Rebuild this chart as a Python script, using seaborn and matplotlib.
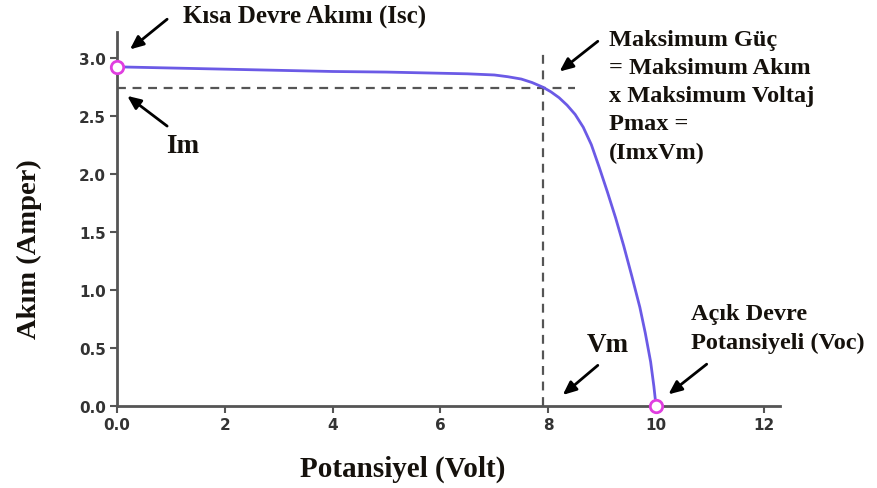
import matplotlib
matplotlib.use("Agg")
import matplotlib.pyplot as plt
import seaborn as sns
import pandas as pd

# ---- data ----
voltage = [0.0, 1.0, 2.0, 3.0, 4.0, 5.0, 6.0, 6.5, 7.0, 7.25, 7.5, 7.7, 7.9,
           8.05, 8.2, 8.35, 8.5, 8.65, 8.8, 8.95, 9.1, 9.25, 9.4, 9.55, 9.7,
           9.8, 9.9, 9.96, 10.0]
current = [2.92, 2.91, 2.90, 2.89, 2.88, 2.875, 2.865, 2.86, 2.85, 2.835,
           2.815, 2.785, 2.745, 2.705, 2.655, 2.59, 2.51, 2.40, 2.25, 2.05,
           1.84, 1.62, 1.38, 1.12, 0.85, 0.63, 0.38, 0.17, 0.0]
isc = 2.92
voc = 10.0
im = 2.74
vm = 7.9
xticks = [0, 2, 4, 6, 8, 10, 12]
xtick_labels = ["0.0", "2", "4", "6", "8", "10", "12"]
yticks = [0.0, 0.5, 1.0, 1.5, 2.0, 2.5, 3.0]
ytick_labels = ["0.0", "0.5", "1.0", "1.5", "2.0", "2.5", "3.0"]

df = pd.DataFrame({"V": voltage, "I": current})
pts = pd.DataFrame({"V": [0.0, voc], "I": [isc, 0.0]})

sns.set_style("ticks")
plt.rcParams["font.family"] = ["DejaVu Sans"]

fig = plt.figure(figsize=(8.77, 4.89), dpi=100)
ax = fig.add_axes([117 / 877, 1 - 407 / 489, (780 - 117) / 877, (407 - 33) / 489])

serif = ["Liberation Serif", "DejaVu Serif"]
tcol = "#15110c"
grey = "#555555"

# dashed guide lines
ax.plot([0, 8.5], [im, im], ls=(0, (4, 3)), color=grey, lw=1.6, zorder=1)
ax.plot([vm, vm], [0, 3.07], ls=(0, (4, 3)), color=grey, lw=1.6, zorder=1)

sns.lineplot(data=df, x="V", y="I", ax=ax, color="#6b5ae6", lw=2.0,
             sort=False, zorder=3)
sns.scatterplot(data=pts, x="V", y="I", ax=ax, s=80, marker="o",
                facecolor="white", edgecolor="#e03ee0", linewidth=2.0,
                zorder=5, clip_on=False)

ax.set_xlim(0, 12.3)
ax.set_ylim(0, 3.22)
ax.set_xticks(xticks)
ax.set_xticklabels(xtick_labels)
ax.set_yticks(yticks)
ax.set_yticklabels(ytick_labels)
for lab in ax.get_xticklabels() + ax.get_yticklabels():
    lab.set_fontweight("bold")
    lab.set_fontsize(11)
    lab.set_color("#333333")
ax.tick_params(axis="both", length=5, width=1.5, color=grey, pad=3)
for s in ["top", "right"]:
    ax.spines[s].set_visible(False)
for s in ["left", "bottom"]:
    ax.spines[s].set_color(grey)
    ax.spines[s].set_linewidth(2.0)

ax.set_xlabel("")
ax.set_ylabel("")
fig.text(403 / 877, 1 - 469 / 489, "Potansiyel (Volt)", family=serif,
         fontweight="bold", fontsize=21, color=tcol, ha="center", va="center")
fig.text(29 / 877, 1 - 249 / 489, "Akım (Amper)", family=serif,
         fontweight="bold", fontsize=20.5, color=tcol, ha="center",
         va="center", rotation=90)

arrow = dict(arrowstyle="-|>,head_length=0.8,head_width=0.35", color="black",
             lw=2.0, shrinkA=0, shrinkB=0)

# short circuit current
ax.annotate("", xy=(0.24, 3.07), xytext=(0.93, 3.33), arrowprops=arrow,
            annotation_clip=False)
ax.text(1.22, 3.36, "Kısa Devre Akımı (Isc)", family=serif, fontweight="bold",
        fontsize=18, color=tcol, ha="left", va="center", clip_on=False)

# Im
ax.annotate("", xy=(0.19, 2.67), xytext=(0.93, 2.41), arrowprops=arrow,
            annotation_clip=False)
ax.text(1.21, 2.24, "Im", family=serif, fontweight="bold", fontsize=19.5,
        color=tcol, ha="center", va="center", clip_on=False)

# maximum power
ax.annotate("", xy=(8.21, 2.88), xytext=(8.92, 3.14), arrowprops=arrow,
            annotation_clip=False)
ax.text(9.12, 3.25,
        "Maksimum Güç\n= Maksimum Akım\nx Maksimum Voltaj\nPmax =\n(ImxVm)",
        family=serif, fontweight="bold", fontsize=17.5, color=tcol,
        ha="left", va="top", linespacing=1.45, clip_on=False)

# Vm
ax.annotate("", xy=(8.27, 0.095), xytext=(8.92, 0.35), arrowprops=arrow,
            annotation_clip=False)
ax.text(9.1, 0.53, "Vm", family=serif, fontweight="bold", fontsize=19.5,
        color=tcol, ha="center", va="center", clip_on=False)

# open circuit voltage
ax.annotate("", xy=(10.23, 0.10), xytext=(10.94, 0.36), arrowprops=arrow,
            annotation_clip=False)
ax.text(10.64, 0.89, "Açık Devre\nPotansiyeli (Voc)", family=serif,
        fontweight="bold", fontsize=17.5, color=tcol, ha="left", va="top",
        linespacing=1.5, clip_on=False)

fig.savefig("out.png", dpi=100)
